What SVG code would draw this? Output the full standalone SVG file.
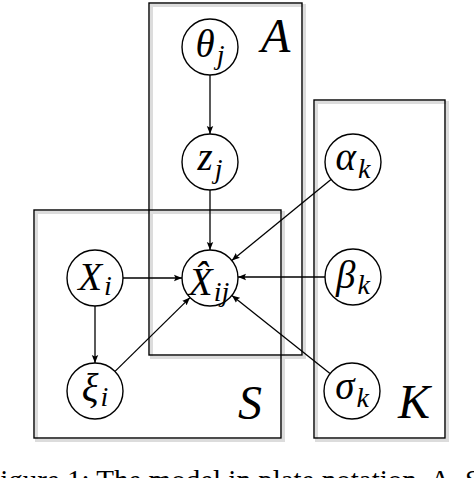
<svg xmlns="http://www.w3.org/2000/svg" width="474" height="478" viewBox="0 0 474 478">
<style>
.plate{fill:none;stroke:#000;stroke-width:1.4}
.shadow{fill:none;stroke:#dcdcdc;stroke-width:3}
.node circle{fill:#fff;stroke:#000;stroke-width:1.4}
.lbl{font-family:"Liberation Serif","DejaVu Serif",serif;font-style:italic;font-size:39px;fill:#000;text-anchor:middle}
.sub{font-size:28px}
.plbl{font-family:"Liberation Serif","DejaVu Serif",serif;font-style:italic;font-size:48px;fill:#000}
.edge{stroke:#000;stroke-width:1.3;fill:none;marker-end:url(#arr)}
.cap{font-family:"Liberation Serif","DejaVu Serif",serif;font-size:29px;fill:#000}
</style>
<defs>
<marker id="arr" markerUnits="userSpaceOnUse" markerWidth="10" markerHeight="8" refX="8" refY="4" orient="auto">
<path d="M0,0.8 L8,4 L0,7.2 L1.5,4 z" fill="#000"/>
</marker>
</defs>
<rect width="474" height="478" fill="#fff"/>
<g id="plates">
<rect class="shadow" x="151.5" y="5.5" width="153" height="352"/>
<rect class="shadow" x="36.5" y="212.5" width="247" height="228"/>
<rect class="shadow" x="316.5" y="102.5" width="131" height="338"/>
<g id="plate-A"><rect class="plate" x="149" y="3" width="153" height="352"/><text class="plbl" x="261" y="52">A</text></g>
<g id="plate-S"><rect class="plate" x="34" y="210" width="247" height="228"/><text class="plbl" x="238" y="419">S</text></g>
<g id="plate-K"><rect class="plate" x="314" y="100" width="131" height="338"/><text class="plbl" x="398" y="418">K</text></g>
</g>
<g id="connectors">
<line class="edge" x1="210" y1="75" x2="210" y2="134"/>
<line class="edge" x1="210" y1="190" x2="210" y2="250"/>
<line class="edge" x1="123" y1="278" x2="182" y2="278"/>
<line class="edge" x1="325" y1="277" x2="238" y2="277"/>
<line class="edge" x1="331" y1="179.6" x2="231.8" y2="260.4"/>
<line class="edge" x1="330" y1="373.6" x2="231.9" y2="295.4"/>
<line class="edge" x1="115" y1="371.4" x2="190" y2="297.6"/>
<line class="edge" x1="95" y1="306" x2="95" y2="363"/>
</g>
<g id="theta" class="node"><circle cx="210" cy="47" r="28"/><text class="lbl" x="210" y="57">θ<tspan class="sub" dx="2" dy="7">j</tspan></text></g>
<g id="z" class="node"><circle cx="210" cy="162" r="28"/><text class="lbl" x="210" y="170">z<tspan class="sub" dx="2" dy="8">j</tspan></text></g>
<g id="Xhat" class="node"><circle cx="210" cy="278" r="28"/><text class="lbl" x="209" y="295">X̂<tspan class="sub" dx="1" dy="6">ij</tspan></text></g>
<g id="X" class="node"><circle cx="95" cy="278" r="28"/><text class="lbl" x="95" y="290">X<tspan class="sub" dx="2" dy="5">i</tspan></text></g>
<g id="xi" class="node"><circle cx="95" cy="391" r="28"/><text class="lbl" x="95" y="401">ξ<tspan class="sub" dx="2" dy="5">i</tspan></text></g>
<g id="alpha" class="node"><circle cx="353" cy="162" r="28"/><text class="lbl" x="353" y="170">α<tspan class="sub" dx="2" dy="8">k</tspan></text></g>
<g id="beta" class="node"><circle cx="353" cy="277" r="28"/><text class="lbl" x="353" y="288">β<tspan class="sub" dx="2" dy="6">k</tspan></text></g>
<g id="sigma" class="node"><circle cx="352" cy="391" r="28"/><text class="lbl" x="352" y="399">σ<tspan class="sub" dx="2" dy="8">k</tspan></text></g>
<text class="cap" x="-16" y="490">Figure 1: The model in plate notation. A, S</text>
</svg>
